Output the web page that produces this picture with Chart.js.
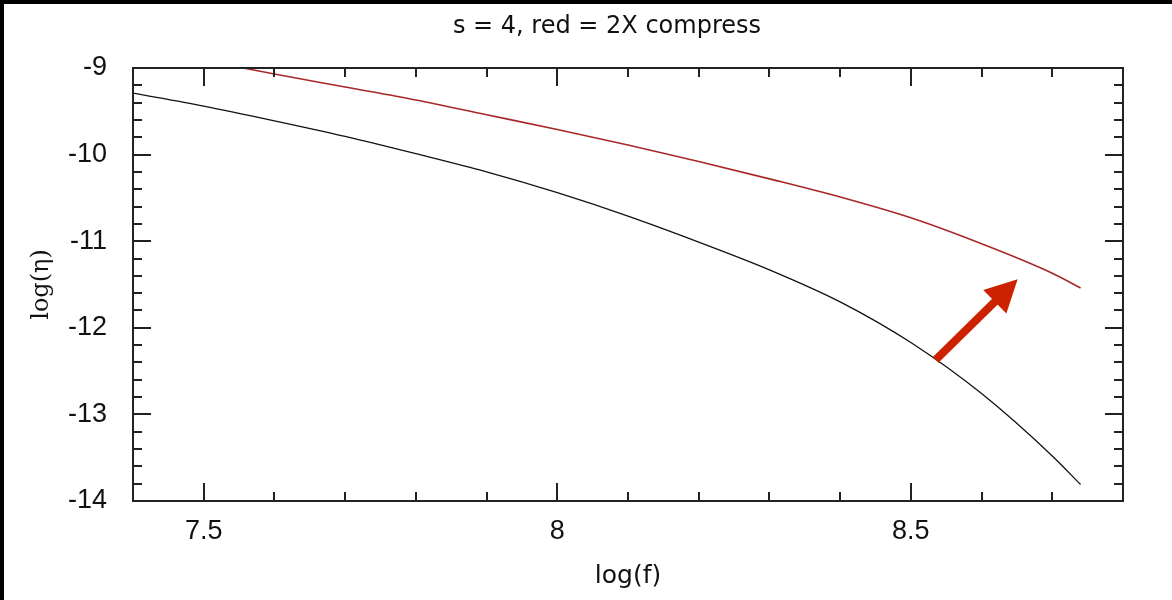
<!DOCTYPE html>
<html>
<head>
<meta charset="utf-8">
<script src="https://cdn.jsdelivr.net/npm/chart.js@4"></script>
<style>
  body { margin: 0; background: #000; }
  #wrap { position: absolute; left: 4px; top: 4px; width: 1168px; height: 596px; background: #fff; }
</style>
</head>
<body>
<div id="wrap"><canvas id="chart"></canvas></div>
<script>
// curve values
const blackX = [7.4, 7.5, 7.6, 7.7, 7.8, 7.9, 8.0, 8.1, 8.2, 8.3, 8.4, 8.5, 8.6, 8.7, 8.74];
const blackY = [-9.29, -9.44, -9.61, -9.79, -9.99, -10.20, -10.44, -10.71, -11.01, -11.33, -11.70, -12.17, -12.76, -13.48, -13.81];
const redX = [7.556, 7.6, 7.7, 7.8, 7.9, 8.0, 8.1, 8.2, 8.3, 8.4, 8.5, 8.6, 8.7, 8.74];
const redY = [-9.0, -9.07, -9.22, -9.37, -9.54, -9.71, -9.89, -10.08, -10.28, -10.49, -10.73, -11.03, -11.37, -11.54];

const xTickLabels = [7.5, 8, 8.5];
const yTickLabels = [-14, -13, -12, -11, -10, -9];
const xMinorStep = 0.1;
const yMinorStep = 0.2;

// arrow from black curve towards red curve (data coords)
const arrowTail = [8.535, -12.37];
const arrowTip = [8.651, -11.44];

function pts(xs, ys) {
    return xs.map((x, i) => ({ x: x, y: ys[i] }));
}

// the original title sits a bit right of the canvas centre
const titleShift = {
    id: 'titleShift',
    afterLayout(chart) {
        if (chart.titleBlock) chart.titleBlock.left += 87;
    }
};

const frameAndTicks = {
    id: 'frameAndTicks',
    afterDraw(chart) {
        const { ctx, chartArea: a, scales } = chart;
        const xs = scales.x, ys = scales.y;
        ctx.save();
        ctx.strokeStyle = '#222';
        ctx.lineWidth = 2;
        ctx.strokeRect(a.left, a.top, a.right - a.left, a.bottom - a.top);
        ctx.beginPath();
        for (let v = xs.min; v <= xs.max + 1e-9; v += xMinorStep) {
            const major = xTickLabels.some(t => Math.abs(t - v) < 1e-6);
            const len = major ? 18 : 9;
            const px = Math.round(xs.getPixelForValue(v));
            ctx.moveTo(px, a.bottom); ctx.lineTo(px, a.bottom - len);
            ctx.moveTo(px, a.top); ctx.lineTo(px, a.top + len);
        }
        for (let v = ys.min; v <= ys.max + 1e-9; v += yMinorStep) {
            const major = yTickLabels.some(t => Math.abs(t - v) < 1e-6);
            const len = major ? 18 : 9;
            const py = Math.round(ys.getPixelForValue(v));
            ctx.moveTo(a.left, py); ctx.lineTo(a.left + len, py);
            ctx.moveTo(a.right, py); ctx.lineTo(a.right - len, py);
        }
        ctx.stroke();
        ctx.restore();
    }
};

const arrow = {
    id: 'arrow',
    afterDatasetsDraw(chart) {
        const { ctx, scales } = chart;
        const x0 = scales.x.getPixelForValue(arrowTail[0]);
        const y0 = scales.y.getPixelForValue(arrowTail[1]);
        const x1 = scales.x.getPixelForValue(arrowTip[0]);
        const y1 = scales.y.getPixelForValue(arrowTip[1]);
        const ang = Math.atan2(y1 - y0, x1 - x0);
        const headLen = 32, headHalf = 16.5;
        const bx = x1 - headLen * Math.cos(ang), by = y1 - headLen * Math.sin(ang);
        ctx.save();
        ctx.strokeStyle = '#cc2200';
        ctx.fillStyle = '#cc2200';
        ctx.lineWidth = 8;
        ctx.beginPath();
        ctx.moveTo(x0, y0);
        ctx.lineTo(bx + 2 * Math.cos(ang), by + 2 * Math.sin(ang));
        ctx.stroke();
        ctx.beginPath();
        ctx.moveTo(x1, y1);
        ctx.lineTo(bx + headHalf * Math.sin(ang), by - headHalf * Math.cos(ang));
        ctx.lineTo(bx - headHalf * Math.sin(ang), by + headHalf * Math.cos(ang));
        ctx.closePath();
        ctx.fill();
        ctx.restore();
    }
};

new Chart(document.getElementById('chart'), {
    type: 'scatter',
    data: {
        datasets: [
            {
                label: 'base',
                data: pts(blackX, blackY),
                showLine: true,
                borderColor: '#111',
                borderWidth: 1.3,
                pointRadius: 0,
                cubicInterpolationMode: 'monotone'
            },
            {
                label: 'red = 2X compress',
                data: pts(redX, redY),
                showLine: true,
                borderColor: '#a82828',
                borderWidth: 1.6,
                pointRadius: 0,
                cubicInterpolationMode: 'monotone'
            }
        ]
    },
    options: {
        responsive: true,
        maintainAspectRatio: false,
        animation: false,
        layout: { padding: { left: 0, right: 49, top: 0, bottom: 0 } },
        plugins: {
            legend: { display: false },
            tooltip: { enabled: false },
            title: {
                display: true,
                text: 's = 4, red = 2X compress',
                color: '#111',
                font: { family: 'DejaVu Sans', size: 24, weight: 'normal' },
                padding: { top: 8.6, bottom: 26.6 }
            }
        },
        scales: {
            x: {
                type: 'linear',
                position: 'bottom',
                min: 7.4,
                max: 8.8,
                grid: { display: false, drawTicks: false },
                border: { display: false },
                afterBuildTicks: s => { s.ticks = xTickLabels.map(v => ({ value: v })); },
                afterFit: s => { s.height = 99; },
                ticks: {
                    color: '#111',
                    padding: 14,
                    font: { family: 'Liberation Sans', size: 27 },
                    callback: v => String(v)
                },
                title: {
                    display: true,
                    text: 'log(f)',
                    color: '#111',
                    font: { family: 'DejaVu Sans', size: 25 },
                    padding: { top: 0, bottom: 9 }
                }
            },
            y: {
                type: 'linear',
                position: 'left',
                min: -14,
                max: -9,
                grid: { display: false, drawTicks: false },
                border: { display: false },
                afterBuildTicks: s => { s.ticks = yTickLabels.map(v => ({ value: v })); },
                afterFit: s => { s.width = 129; },
                ticks: {
                    color: '#111',
                    padding: 26,
                    font: { family: 'Liberation Sans', size: 27 },
                    callback: v => String(v)
                },
                title: {
                    display: true,
                    text: 'log(η)',
                    color: '#111',
                    font: { family: 'DejaVu Serif', size: 24 },
                    padding: { top: 23.6, bottom: 0 }
                }
            }
        }
    },
    plugins: [titleShift, frameAndTicks, arrow]
});
</script>
</body>
</html>
